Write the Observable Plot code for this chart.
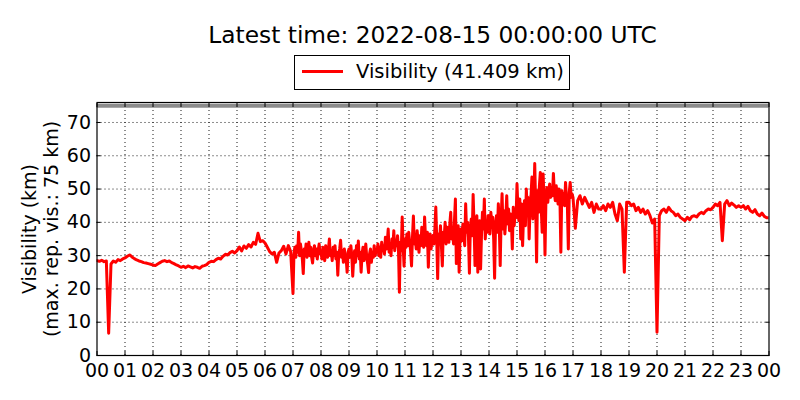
<!DOCTYPE html>
<html><head><meta charset="utf-8">
<script src="https://cdn.jsdelivr.net/npm/d3@7"></script>
<script src="https://cdn.jsdelivr.net/npm/@observablehq/plot@0.6"></script>
<style>
body{margin:0;background:#fff;font-family:"DejaVu Sans",sans-serif;color:#000}
#wrap{position:relative;width:800px;height:400px;overflow:hidden}
#title{position:absolute;left:0;width:865px;top:21px;text-align:center;font-size:23.3px;line-height:27px;white-space:nowrap}
#legend{position:absolute;left:294px;top:55px;width:274px;height:33px;border:1px solid #000;background:#fff}
#legend .swatch{position:absolute;left:7px;top:14px;width:41px;height:3px;background:red}
#legend .lab{position:absolute;left:61px;top:4px;font-size:19.5px;line-height:24px;white-space:nowrap}
#chart{position:absolute;left:0;top:0}
</style></head>
<body>
<div id="wrap">
  <div id="chart"></div>
  <div id="title"></div>
  <div id="legend"><div class="swatch"></div><div class="lab"></div></div>
</div>
<script>
const titleText = "Latest time: 2022-08-15 00:00:00 UTC";
const legendText = "Visibility (41.409 km)";
const yTitle = "Visibility (km)\n(max. rep. vis.: 75 km)";
const maxRepVis = 75;
const yDomain = [0, 76];
const yTicks = [0, 10, 20, 30, 40, 50, 60, 70];
const hourTicks = [0,1,2,3,4,5,6,7,8,9,10,11,12,13,14,15,16,17,18,19,20,21,22,23,24];
const hourLabels = ["00","01","02","03","04","05","06","07","08","09","10","11","12","13","14","15","16","17","18","19","20","21","22","23","00"];

// visibility (km), samples spread evenly within each hour
const h00 = [28.5, 28.3, 28.6, 28.2, 28.4, 6.7, 27.5, 28.4, 28.0, 28.8, 28.5, 29.0];
const h01 = [29.3, 29.8, 30.2, 29.6, 29.1, 28.7, 28.4, 28.2, 27.9, 27.8, 27.6, 27.4];
const h02 = [27.2, 27.0, 27.5, 27.9, 28.3, 28.5, 28.2, 28.4, 27.9, 27.6, 27.2, 26.9];
const h03 = [26.5, 26.8, 26.4, 26.9, 26.6, 26.3, 26.7, 26.5, 26.2, 26.8, 27.0, 27.3];
const h04 = [28.0, 28.3, 28.2, 28.8, 29.2, 29.0, 29.8, 30.4, 30.2, 30.9, 31.3, 30.8];
const h05 = [31.5, 32.6, 31.4, 32.9, 32.2, 33.3, 32.6, 34.0, 33.4, 36.7, 34.2, 34.5];
const h06 = [33.8, 32.5, 31.2, 30.5, 31.0, 28.0, 30.8, 31.5, 32.8, 30.5, 33.0, 31.2];
const h07 = [18.6, 30.5, 32.5, 29.5, 33.0, 31.0, 37.0, 30.0, 33.5, 31.5, 29.0, 24.6, 32.0, 30.5, 33.5, 29.5, 31.0, 34.0, 30.0, 32.5, 29.5, 27.8, 31.5, 33.0, 30.0, 32.0, 29.0, 31.5, 33.5, 30.5];
const h08 = [31.0, 29.0, 32.5, 30.0, 28.5, 33.0, 30.5, 29.5, 32.0, 35.0, 30.0, 31.5, 28.5, 32.5, 30.0, 33.0, 29.0, 31.0, 24.1, 30.5, 32.0, 34.6, 29.5, 31.5, 28.0, 32.0, 30.0, 29.0, 25.0, 31.0];
const h09 = [32.0, 29.5, 33.0, 30.0, 23.8, 29.0, 31.5, 28.0, 33.0, 30.0, 34.4, 29.0, 31.0, 25.0, 30.5, 32.5, 28.5, 31.0, 33.5, 29.5, 27.5, 24.9, 30.5, 32.0, 28.0, 31.0, 29.5, 33.0, 30.0, 31.5];
const h10 = [31.0, 33.5, 30.0, 32.5, 29.5, 34.0, 31.5, 33.0, 30.5, 35.5, 32.0, 34.0, 38.0, 31.0, 33.5, 30.0, 35.0, 32.5, 37.5, 31.5, 34.5, 33.0, 36.0, 32.0, 19.0, 34.0, 31.5, 41.6, 33.0, 26.8];
const h11 = [35.0, 32.5, 36.5, 33.0, 37.0, 34.0, 31.5, 26.9, 35.5, 41.9, 33.5, 36.0, 32.0, 37.5, 34.5, 31.0, 36.0, 33.0, 38.5, 34.0, 32.5, 41.6, 35.0, 33.0, 37.0, 26.5, 34.5, 36.5, 32.0, 35.5];
const h12 = [36.0, 33.5, 38.0, 44.6, 35.0, 23.1, 36.5, 34.0, 39.0, 33.0, 26.9, 37.0, 35.5, 40.0, 33.5, 38.5, 36.0, 34.0, 39.5, 43.0, 35.0, 37.5, 33.5, 40.5, 47.0, 27.6, 36.5, 39.0, 25.0, 35.5];
const h13 = [38.0, 34.5, 39.5, 36.0, 33.0, 45.6, 37.0, 40.0, 35.5, 24.7, 38.5, 41.0, 36.0, 48.4, 39.0, 27.0, 37.5, 42.0, 25.0, 38.0, 40.5, 26.0, 36.5, 43.0, 38.0, 47.0, 35.0, 40.5, 37.0, 42.0];
const h14 = [40.0, 36.5, 43.0, 38.5, 41.5, 35.0, 23.2, 39.5, 42.0, 37.0, 45.6, 39.0, 27.0, 41.0, 48.6, 38.0, 43.5, 36.5, 41.0, 48.0, 39.5, 44.0, 37.5, 42.5, 40.0, 32.0, 44.5, 39.0, 43.0, 41.5];
const h15 = [51.6, 44.0, 40.5, 47.0, 35.0, 45.5, 33.0, 42.0, 46.5, 39.0, 50.0, 43.0, 47.5, 35.0, 44.5, 48.0, 53.6, 41.0, 46.5, 57.7, 45.0, 28.1, 49.5, 43.0, 51.0, 55.0, 44.0, 37.0, 54.5, 46.0];
const h16 = [30.2, 47.0, 50.5, 46.0, 49.5, 51.5, 47.5, 50.0, 48.0, 54.7, 49.0, 46.5, 51.0, 48.5, 45.5, 50.0, 47.0, 31.0, 49.5, 46.0, 48.5, 45.0, 52.0, 47.5, 44.5, 32.0, 49.0, 52.0, 47.5, 48.5];
const h17 = [47.5, 38.2, 46.5, 48.0, 45.5, 47.5, 46.0, 44.5, 46.0, 43.0, 45.5, 44.0];
const h18 = [44.0, 45.0, 43.5, 45.5, 44.5, 46.0, 42.5, 40.5, 45.5, 44.0, 25.0, 46.0];
const h19 = [46.0, 45.0, 45.5, 43.5, 44.5, 43.0, 44.0, 42.5, 43.5, 42.0, 39.8, 41.0];
const h20 = [7.0, 42.0, 43.5, 44.0, 43.0, 44.5, 43.5, 43.0, 42.0, 42.5, 41.5, 41.0];
const h21 = [40.5, 41.5, 40.8, 41.8, 42.0, 41.6, 42.5, 43.0, 42.6, 43.5, 44.0, 43.8];
const h22 = [44.5, 45.5, 45.0, 46.0, 34.5, 45.5, 46.5, 45.0, 45.8, 45.2, 44.5, 45.0];
const h23 = [44.5, 45.0, 44.0, 44.8, 43.5, 43.0, 43.8, 42.5, 42.0, 42.8, 41.8, 41.4];
const lastValue = 41.409;

const hours = [h00,h01,h02,h03,h04,h05,h06,h07,h08,h09,h10,h11,h12,h13,h14,h15,h16,h17,h18,h19,h20,h21,h22,h23];
const data = [];
hours.forEach((vals, h) => vals.forEach((v, i) => data.push({t: h + i / vals.length, v})));
data.push({t: 24, v: lastValue});

document.getElementById("title").textContent = titleText;
document.querySelector("#legend .lab").textContent = legendText;

const plot = Plot.plot({
  width: 800,
  height: 400,
  marginTop: 102,
  marginBottom: 45,
  marginLeft: 96.5,
  marginRight: 31.5,
  style: {fontFamily: "DejaVu Sans", fontSize: "19px", color: "black", background: "white", overflow: "visible"},
  x: {domain: [0, 24]},
  y: {domain: yDomain},
  marks: [
    Plot.gridX(hourTicks.slice(1, -1), {stroke: "black", strokeOpacity: 0.9, strokeWidth: 1, strokeDasharray: "1,3"}),
    Plot.gridY(yTicks.slice(1), {stroke: "black", strokeOpacity: 0.9, strokeWidth: 1, strokeDasharray: "1,3"}),
    Plot.ruleY([maxRepVis], {stroke: "#8c8c8c", strokeWidth: 4}),
    Plot.line(data, {x: "t", y: "v", stroke: "red", strokeWidth: 3, clip: true}),
    Plot.frame({stroke: "black", strokeWidth: 1.2}),
    Plot.axisX({ticks: hourTicks, anchor: "bottom", tickSize: -4, tickPadding: 12, tickFormat: (d, i) => hourLabels[i], fontSize: 19, label: null}),
    Plot.axisX({ticks: hourTicks, anchor: "top", tickSize: -4, fill: "none", label: null}),
    Plot.axisY({ticks: yTicks, anchor: "left", tickSize: -4, tickPadding: 10, fontSize: 19, label: null}),
    Plot.axisY({ticks: yTicks, anchor: "right", tickSize: -4, fill: "none", label: null}),
    Plot.text([yTitle], {text: d => d, frameAnchor: "left", rotate: -90, dx: -57, fontSize: 19, lineHeight: 1.16, textAnchor: "middle", lineAnchor: "middle", fill: "black"})
  ]
});
document.getElementById("chart").appendChild(plot);
</script>
</body></html>
